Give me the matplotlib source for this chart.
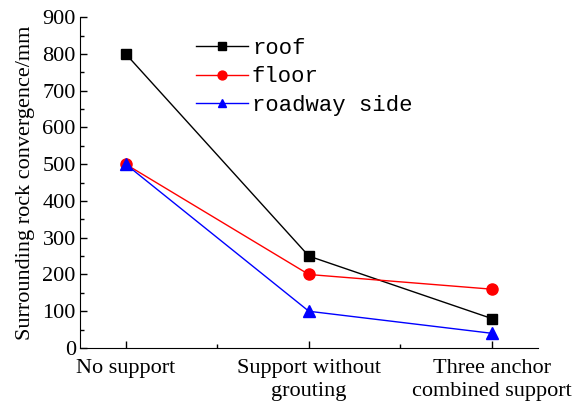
import numpy as np
import matplotlib.pyplot as plt
from matplotlib.ticker import MultipleLocator, FixedLocator

categories = ['No support', 'Support without\ngrouting', 'Three anchor\ncombined support']
roof = [800, 250, 80]
floor = [500, 200, 160]
side = [500, 100, 40]

plt.rcParams['font.family'] = ['Liberation Serif', 'DejaVu Serif']

fig = plt.figure(figsize=(5.77, 4.08), dpi=100)
ax = fig.add_axes([0.1386, 0.147, 0.7934, 0.811])

x = np.arange(1, len(categories) + 1)
ax.plot(x, roof, color='black', marker='s', markersize=7, lw=1, label='roof')
ax.plot(x, floor, color='red', marker='o', markersize=8, lw=1, label='floor')
ax.plot(x, side, color='blue', marker='^', markersize=8, lw=1, label='roadway side')

ax.set_xlim(0.75, 3.25)
ax.set_ylim(0, 900)
ax.set_xticks(x)
ax.set_xticklabels(categories, fontsize=16, linespacing=1.3)
ax.xaxis.set_minor_locator(FixedLocator([1.5, 2.5]))
ax.yaxis.set_major_locator(MultipleLocator(100))
ax.yaxis.set_minor_locator(MultipleLocator(50))
ax.tick_params(axis='both', which='major', direction='in', length=5, width=1, labelsize=16)
ax.tick_params(axis='both', which='minor', direction='in', length=3, width=1)
ax.tick_params(axis='x', pad=8)
ax.tick_params(axis='y', pad=3)
ax.spines['top'].set_visible(False)
ax.spines['right'].set_visible(False)
ax.set_ylabel('Surrounding rock convergence/mm', fontsize=16, labelpad=5)

ax.legend(loc='upper left', bbox_to_anchor=(0.235, 0.965), frameon=False,
          prop={'family': 'Liberation Mono', 'size': 16}, handlelength=2.3,
          handletextpad=0.2, labelspacing=0.35, borderaxespad=0, markerscale=0.8)

fig.savefig('out.png', dpi=100)
